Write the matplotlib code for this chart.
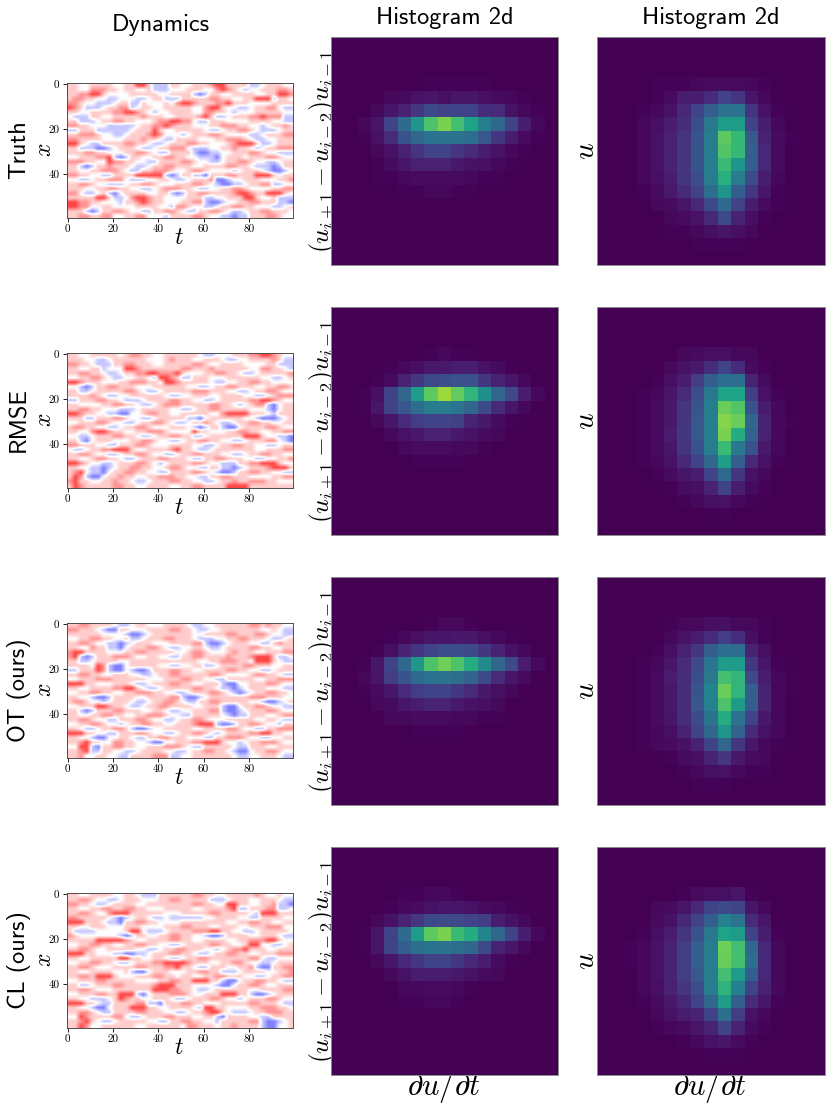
"""Dynamics and 2d histograms for the four models, one row per model."""

from __future__ import annotations

import matplotlib

matplotlib.use("Agg")
import matplotlib.pyplot as plt
import numpy as np

MODELS = ["Truth", "RMSE", "OT (ours)", "CL (ours)"]
X_TICKS = [0, 20, 40, 60, 80]
Y_TICKS = [0, 20, 40]

# coarse read of the dynamics panels, 30 rows x 40 columns
# 0 strong blue, 1 pale blue, 2 white, 3 pale red, 4 red, 5 strong red
LEVELS = [-0.5, -0.22, 0.0, 0.2, 0.42, 0.72]

DYN_TRUTH = [
    "3322333322 3355311133 2233345533 3311233322",
    "3322444332 3322311122 2333224543 2122333443",
    "3344553222 2333332233 3310133223 3332233554",
    "3443322112 2211233111 3333344332 2335551332",
    "4432211123 3113222324 5543334453 3322223333",
    "5431112334 4123322333 3322455322 1123344211",
    "3322333344 5543212233 3322443321 2223333322",
    "2111332233 3334333223 3334531123 3344544411",
    "3311123344 3322234455 4421133322 2233332211",
    "4433222111 1123344543 3322233444 3322123343",
    "1133311111 1233353223 3333211233 4432111233",
    "3344432211 2333454222 1233344322 2211233344",
    "4433332222 3334332113 3332223344 4321122333",
    "5532113333 4433211233 3443322234 5553112333",
    "3311100123 3321123344 4211122334 3321233444",
    "3334433222 3344321133 3310011223 3344322111",
    "2233344510 1332233443 3221110233 3233344322",
    "4443322544 3322113333 4432211233 4432211233",
    "3310133433 3211233443 3322333344 3321110133",
    "3322334443 2113344432 2344322221 2333210012",
    "4433221133 3355555101 3311033344 3335553233",
    "2211233444 2111223321 1233340012 2333222334",
    "3344322111 2334432223 3344321001 1233441122",
    "3332233443 3221123444 3321122334 4322223344",
    "4421123102 3333223310 1334433334 5543355532",
    "3333355311 2455433222 2333112233 3553223111",
    "5544332221 3345433222 3344100122 3344333110",
    "5544223322 2233332214 4322112334 4332221123",
    "3331013344 3221133443 2113344321 1233443332",
    "3344334422 3344222133 3344322110 1133344322",
]
DYN_RMSE = [
    "3322333332 3443322333 3332112223 3344554322",
    "3332211233 3333222343 3322333211 2233334311",
    "4433211133 4433322333 3344322333 3222233111",
    "3322331222 5543333333 4433343333 3322443321",
    "3344332112 3344554445 3222334433 2112333334",
    "2233443211 2233215543 1133322233 3333221123",
    "5543332223 3444332554 3333321122 3344332222",
    "2210133443 3322233333 3221123344 3332233443",
    "3311233333 4432112333 3344433322 1123344322",
    "3333432112 2333333211 2233322333 3221123444",
    "1133344332 1112333344 3322112333 3344554322",
    "3322223344 3321123444 3333344332 1234410233",
    "3344332221 1123333322 1123344333 3322210233",
    "5543322110 0223443322 3333322455 5533321333",
    "3331133344 3221123333 3110233333 3221000123",
    "2233344322 1123344321 1233432112 3344332233",
    "3443322112 3344322233 3210133100 2333344322",
    "3322455433 2233444322 2253322233 4433223344",
    "2211233344 3321123344 3311233333 3555322110",
    "3310233322 2334432211 2334433221 1233344210",
    "4433322113 3344322233 3322112334 4332211233",
    "2112334455 5322333345 3321123333 3332233344",
    "3344322112 3344322112 3344333221 1233443322",
    "3322344332 1123334433 3211334433 3221122334",
    "5543221123 3344321233 3344322111 3344555322",
    "3322110123 3443322344 3221133110 1233345553",
    "3452110233 4433221133 3344321001 3344332211",
    "3541002334 3322334443 3221133443 3322223344",
    "4533223343 3211233344 3322112334 3344433222",
    "3543333344 3322333322 3344333355 5533333333",
]
DYN_OT = [
    "3344333321 1233222333 3211223333 3344343322",
    "4433321003 3222333344 3321122333 3333223211",
    "3333332222 1001233333 3322333344 3334432211",
    "2233443322 3112333443 3321112233 4433321123",
    "3344322110 1233322233 3344100123 3322113433",
    "3322433110 2333443211 2233211233 3344332233",
    "4553333222 3344333332 2344322234 3332233344",
    "4510133344 4322332211 3344333343 3345553112",
    "3311233332 2333333333 3332233444 3325553211",
    "3333254100 2333332211 2233112333 3443332233",
    "1133354100 2100133344 3322333344 3322112333",
    "3344332233 3221123344 3333344322 2234433211",
    "2233344433 3333222333 4433221133 3332233444",
    "5553322233 3211233344 3322333100 2233344322",
    "3322333344 5532112333 3344332110 1233322211",
    "2233443322 3344433221 1233344321 0123344332",
    "3322100133 3322333344 1001233333 3344433322",
    "3443221233 3211233443 2113344333 3322100123",
    "2233355433 2112334433 3322333100 2334432211",
    "3310133344 3332233211 2233344100 1233344322",
    "3322334433 2233444322 1133333210 1133322344",
    "3344322113 3344322112 3344322233 3332233211",
    "2233443221 2334433223 3345551001 3344322133",
    "3321123344 3100122333 3322333344 3221133444",
    "5553322113 3344322112 3344321233 3344553322",
    "3322100223 3211334433 3222113344 4322112233",
    "3345332244 3322100223 3344555322 1233444322",
    "2255103344 3322333444 3211333332 1133322333",
    "3345113322 1123333221 1233443321 0023344322",
    "3342233221 1333344411 2233333332 1122333211",
]
DYN_CL = [
    "3322333322 3321113333 3344332233 3334322322",
    "3344322112 3332223344 3333311123 3322333211",
    "4433211233 3322333333 3344332255 3322334110",
    "3322334433 4433222333 3322333345 1133344112",
    "3344322455 5333333222 3333344333 3321555333",
    "4433333210 1233211211 1111223333 2211333322",
    "5553332110 3344332222 3333333322 3344332233",
    "3322333222 3332222333 4433322333 2233344422",
    "3111122222 3552111233 3344455332 2112333332",
    "4322222221 0133223344 3322100133 3322333211",
    "3333355555 4322333344 3322333322 3344455322",
    "2233443322 3344332211 2333344332 2355221123",
    "3344322333 3322112334 4333221234 4533322333",
    "5553322211 0011233344 3321123344 3322333444",
    "3322333335 5332233211 2334433333 3344211222",
    "2233443321 1233344555 5433322334 4322112333",
    "3344322233 3344333445 3321133322 3341003344",
    "3322333322 3100233322 2334433111 2333322334",
    "3344355532 2233344332 3322334433 3221123344",
    "2233344333 3322223344 3355533100 2334433211",
    "3311233344 3333345553 3322221002 3344322333",
    "3344322233 3333355544 3321123333 3322333344",
    "2233344335 5510233344 4322333555 3310012333",
    "3322111235 4332233321 1233344322 1233344322",
    "5553321133 3344110333 4433222333 3344333211",
    "3322100233 3555332233 3321553322 2233444332",
    "3344321133 3344333221 1233455321 1123344433",
    "2254333344 2112333443 3322331033 3322113333",
    "3345321123 3333221133 4433221333 3344100123",
    "3354223333 3322333333 2443332334 3333100223",
]

# 2d histograms, 17 x 17 bins, percent of the colour range; rows 3 to 15 hold
# everything that is not background
HIST_FIRST_ROW = 3
HIST_A_TRUTH = [
    [0, 0, 0, 0, 0, 0, 0, 1, 1, 1, 1, 1, 0, 0, 0, 0, 0],
    [0, 0, 0, 0, 2, 3, 5, 6, 4, 6, 6, 4, 3, 2, 1, 0, 0],
    [0, 0, 0, 2, 6, 10, 16, 22, 20, 20, 20, 13, 12, 5, 2, 1, 0],
    [0, 0, 2, 6, 20, 35, 52, 72, 80, 70, 58, 43, 33, 20, 8, 2, 0],
    [0, 0, 1, 5, 12, 26, 33, 38, 38, 38, 36, 27, 16, 8, 3, 1, 0],
    [0, 0, 0, 2, 5, 9, 15, 20, 20, 15, 12, 8, 5, 2, 1, 0, 0],
    [0, 0, 0, 1, 3, 6, 9, 9, 9, 7, 5, 4, 2, 1, 0, 0, 0],
    [0, 0, 0, 1, 1, 2, 3, 3, 3, 3, 2, 1, 1, 0, 0, 0, 0],
    [0, 0, 0, 0, 0, 1, 1, 2, 2, 1, 1, 0, 0, 0, 0, 0, 0],
    [0] * 17, [0] * 17, [0] * 17, [0] * 17,
]
HIST_B_TRUTH = [
    [0, 0, 0, 0, 1, 1, 1, 2, 3, 3, 3, 2, 1, 0, 0, 0, 0],
    [0, 0, 0, 0, 1, 3, 8, 8, 12, 20, 15, 6, 2, 0, 0, 0, 0],
    [0, 0, 0, 1, 2, 5, 11, 20, 30, 38, 38, 15, 5, 1, 0, 0, 0],
    [0, 0, 0, 2, 4, 8, 13, 24, 40, 55, 55, 20, 8, 2, 0, 0, 0],
    [0, 0, 0, 2, 5, 9, 15, 25, 42, 75, 67, 28, 10, 3, 1, 0, 0],
    [0, 0, 0, 2, 5, 9, 16, 26, 42, 73, 67, 30, 11, 3, 0, 0, 0],
    [0, 0, 0, 2, 5, 10, 16, 26, 42, 68, 52, 30, 11, 3, 0, 0, 0],
    [0, 0, 0, 2, 4, 8, 15, 24, 42, 63, 42, 23, 8, 2, 0, 0, 0],
    [0, 0, 0, 1, 3, 7, 12, 20, 36, 52, 30, 16, 6, 1, 0, 0, 0],
    [0, 0, 0, 0, 2, 3, 6, 11, 22, 34, 20, 8, 3, 1, 0, 0, 0],
    [0, 0, 0, 0, 0, 2, 3, 5, 11, 22, 10, 4, 1, 0, 0, 0, 0],
    [0, 0, 0, 0, 0, 1, 1, 2, 4, 6, 4, 2, 0, 0, 0, 0, 0],
    [0, 0, 0, 0, 0, 0, 0, 1, 1, 1, 1, 0, 0, 0, 0, 0, 0],
]
HIST_A_RMSE = [
    [0, 0, 0, 0, 0, 0, 0, 1, 2, 1, 1, 0, 0, 0, 0, 0, 0],
    [0, 0, 0, 0, 1, 2, 4, 7, 7, 8, 8, 5, 3, 1, 0, 0, 0],
    [0, 0, 0, 1, 3, 10, 16, 22, 24, 25, 25, 16, 10, 6, 2, 0, 0],
    [0, 0, 1, 4, 20, 33, 55, 75, 85, 76, 66, 50, 33, 22, 8, 2, 0],
    [0, 0, 1, 6, 20, 27, 36, 42, 42, 38, 33, 23, 12, 6, 2, 0, 0],
    [0, 0, 0, 2, 6, 12, 18, 20, 20, 19, 10, 7, 3, 1, 0, 0, 0],
    [0, 0, 0, 0, 2, 5, 7, 9, 9, 7, 5, 3, 2, 0, 0, 0, 0],
    [0, 0, 0, 0, 0, 2, 3, 3, 3, 2, 2, 1, 0, 0, 0, 0, 0],
    [0, 0, 0, 0, 0, 0, 1, 1, 1, 1, 0, 0, 0, 0, 0, 0, 0],
    [0] * 17, [0] * 17, [0] * 17, [0] * 17,
]
HIST_B_RMSE = [
    [0, 0, 0, 0, 0, 0, 2, 3, 4, 4, 2, 2, 0, 0, 0, 0, 0],
    [0, 0, 0, 0, 0, 2, 5, 7, 13, 20, 12, 3, 1, 0, 0, 0, 0],
    [0, 0, 0, 0, 1, 4, 8, 18, 30, 36, 36, 10, 3, 0, 0, 0, 0],
    [0, 0, 0, 1, 2, 6, 12, 24, 40, 58, 58, 18, 5, 1, 0, 0, 0],
    [0, 0, 0, 1, 3, 7, 15, 26, 43, 77, 73, 25, 8, 2, 0, 0, 0],
    [0, 0, 0, 1, 3, 7, 15, 27, 43, 82, 77, 33, 10, 2, 1, 0, 0],
    [0, 0, 0, 1, 3, 8, 16, 28, 43, 80, 62, 32, 9, 2, 0, 0, 0],
    [0, 0, 0, 1, 3, 6, 15, 25, 42, 68, 40, 25, 7, 2, 0, 0, 0],
    [0, 0, 0, 1, 2, 5, 11, 20, 33, 56, 30, 11, 5, 1, 0, 0, 0],
    [0, 0, 0, 0, 1, 3, 6, 8, 20, 34, 16, 5, 2, 0, 0, 0, 0],
    [0, 0, 0, 0, 0, 1, 3, 4, 10, 20, 8, 3, 1, 0, 0, 0, 0],
    [0, 0, 0, 0, 0, 0, 1, 2, 4, 5, 2, 1, 0, 0, 0, 0, 0],
    [0, 0, 0, 0, 0, 0, 0, 0, 0, 1, 0, 0, 0, 0, 0, 0, 0],
]
HIST_A_OT = [
    [0, 0, 0, 0, 0, 0, 0, 1, 2, 2, 1, 0, 0, 0, 0, 0, 0],
    [0, 0, 0, 0, 1, 2, 4, 6, 6, 7, 7, 4, 2, 1, 0, 0, 0],
    [0, 0, 0, 1, 4, 10, 15, 20, 24, 24, 22, 16, 10, 5, 2, 0, 0],
    [0, 0, 1, 6, 20, 33, 53, 72, 78, 72, 62, 48, 33, 22, 8, 2, 0],
    [0, 0, 2, 6, 18, 26, 35, 38, 38, 36, 32, 22, 12, 6, 3, 0, 0],
    [0, 0, 1, 3, 6, 12, 18, 20, 20, 16, 12, 7, 4, 2, 0, 0, 0],
    [0, 0, 0, 2, 3, 6, 8, 10, 10, 7, 5, 4, 2, 0, 0, 0, 0],
    [0, 0, 0, 0, 2, 2, 3, 3, 3, 2, 2, 1, 1, 0, 0, 0, 0],
    [0, 0, 0, 0, 0, 0, 1, 1, 1, 1, 0, 0, 0, 0, 0, 0, 0],
    [0] * 17, [0] * 17, [0] * 17, [0] * 17,
]
HIST_B_OT = [
    [0, 0, 0, 0, 0, 1, 2, 2, 4, 4, 2, 2, 1, 0, 0, 0, 0],
    [0, 0, 0, 0, 0, 2, 5, 8, 12, 18, 13, 4, 1, 0, 0, 0, 0],
    [0, 0, 0, 0, 1, 4, 9, 16, 30, 36, 36, 10, 4, 0, 0, 0, 0],
    [0, 0, 0, 1, 2, 6, 12, 22, 38, 55, 55, 16, 6, 1, 0, 0, 0],
    [0, 0, 0, 1, 3, 8, 13, 24, 40, 70, 66, 22, 8, 2, 1, 0, 0],
    [0, 0, 0, 1, 3, 7, 13, 26, 45, 77, 66, 30, 10, 2, 1, 0, 0],
    [0, 0, 0, 1, 3, 7, 13, 27, 44, 72, 55, 30, 10, 2, 0, 0, 0],
    [0, 0, 0, 1, 3, 6, 13, 23, 38, 62, 38, 20, 7, 2, 0, 0, 0],
    [0, 0, 0, 1, 2, 4, 10, 20, 33, 52, 32, 12, 5, 2, 0, 0, 0],
    [0, 0, 0, 1, 2, 3, 5, 9, 20, 33, 16, 6, 2, 1, 0, 0, 0],
    [0, 0, 0, 0, 0, 1, 3, 4, 10, 16, 7, 3, 2, 0, 0, 0, 0],
    [0, 0, 0, 0, 0, 0, 1, 2, 4, 5, 2, 1, 1, 0, 0, 0, 0],
    [0, 0, 0, 0, 0, 0, 0, 1, 1, 1, 0, 0, 0, 0, 0, 0, 0],
]
HIST_A_CL = [
    [0, 0, 0, 0, 0, 1, 1, 2, 2, 1, 0, 0, 0, 0, 0, 0, 0],
    [0, 0, 0, 0, 1, 2, 3, 5, 6, 6, 5, 3, 2, 1, 0, 0, 0],
    [0, 0, 0, 2, 5, 10, 16, 22, 23, 22, 20, 18, 8, 5, 2, 0, 0],
    [0, 0, 1, 6, 20, 35, 55, 75, 80, 68, 62, 45, 33, 20, 8, 2, 0],
    [0, 0, 1, 6, 20, 30, 37, 39, 38, 36, 33, 22, 10, 6, 2, 0, 0],
    [0, 0, 0, 2, 6, 11, 16, 20, 20, 16, 11, 8, 3, 1, 0, 0, 0],
    [0, 0, 0, 0, 2, 5, 8, 8, 8, 7, 5, 3, 2, 0, 0, 0, 0],
    [0, 0, 0, 0, 0, 2, 2, 3, 3, 2, 1, 0, 0, 0, 0, 0, 0],
    [0, 0, 0, 0, 0, 1, 1, 2, 2, 1, 0, 0, 0, 0, 0, 0, 0],
    [0] * 17, [0] * 17, [0] * 17, [0] * 17,
]
HIST_B_CL = [
    [0, 0, 0, 0, 0, 0, 1, 3, 4, 4, 6, 1, 0, 0, 0, 0, 0],
    [0, 0, 0, 0, 2, 3, 6, 11, 20, 22, 20, 6, 2, 0, 0, 0, 0],
    [0, 0, 0, 0, 3, 5, 11, 20, 30, 44, 38, 12, 6, 0, 0, 0, 0],
    [0, 0, 0, 1, 4, 8, 15, 25, 40, 58, 55, 20, 8, 1, 0, 0, 0],
    [0, 0, 1, 2, 5, 10, 18, 30, 42, 78, 70, 33, 11, 2, 0, 0, 0],
    [0, 0, 1, 2, 5, 10, 18, 30, 42, 77, 70, 36, 11, 2, 0, 0, 0],
    [0, 0, 0, 2, 5, 10, 18, 28, 42, 70, 55, 30, 11, 2, 0, 0, 0],
    [0, 0, 0, 2, 4, 9, 16, 24, 42, 65, 43, 20, 9, 2, 0, 0, 0],
    [0, 0, 0, 1, 3, 7, 11, 20, 33, 55, 30, 12, 6, 1, 0, 0, 0],
    [0, 0, 0, 0, 2, 5, 8, 10, 20, 37, 18, 5, 2, 0, 0, 0, 0],
    [0, 0, 0, 0, 1, 2, 3, 6, 10, 20, 10, 3, 1, 0, 0, 0, 0],
    [0, 0, 0, 0, 0, 0, 1, 2, 5, 6, 3, 1, 0, 0, 0, 0, 0],
    [0, 0, 0, 0, 0, 0, 0, 0, 1, 1, 1, 0, 0, 0, 0, 0, 0],
]

DYNAMICS = [DYN_TRUTH, DYN_RMSE, DYN_OT, DYN_CL]
HIST_A = [HIST_A_TRUTH, HIST_A_RMSE, HIST_A_OT, HIST_A_CL]
HIST_B = [HIST_B_TRUTH, HIST_B_RMSE, HIST_B_OT, HIST_B_CL]

W, H = 831, 1109
HIST_TOPS = [37, 307, 577, 847]
DYN_TOPS = [83, 353, 623, 893]


def _style() -> None:
    plt.rcParams.update({
        "font.family": ["cmss10", "DejaVu Sans"],
        "mathtext.fontset": "cm",
        "axes.linewidth": 0.7,
        "axes.edgecolor": "0.3",
        "xtick.major.size": 3,
        "ytick.major.size": 3,
        "xtick.major.width": 0.6,
        "ytick.major.width": 0.6,
        "xtick.major.pad": 2,
        "ytick.major.pad": 2,
    })


def add_axes(fig: plt.Figure, left: float, top: float, w: float, h: float) -> plt.Axes:
    return fig.add_axes([left / W, 1 - (top + h) / H, w / W, h / H])


def label(fig: plt.Figure, x: float, y: float, s: str, **kw) -> None:
    """Figure text placed in pixels, drawn under the axes so they can cut it."""
    kw.setdefault("ha", "center")
    kw.setdefault("va", "center")
    kw.setdefault("zorder", -1)
    fig.text(x / W, 1 - y / H, s, **kw)


def decode(rows: list[str]) -> np.ndarray:
    codes = np.array([[int(c) for c in r.replace(" ", "")] for r in rows])
    return np.array(LEVELS)[codes]


def hist_grid(rows: list[list[int]]) -> np.ndarray:
    grid = np.zeros((17, 17))
    grid[HIST_FIRST_ROW:HIST_FIRST_ROW + len(rows)] = np.array(rows) / 100
    return grid


def plot_dynamics(ax: plt.Axes, rows: list[str]) -> None:
    ax.imshow(decode(rows), cmap="bwr", vmin=-1, vmax=1, aspect="auto",
              interpolation="bilinear", extent=(-0.5, 99.5, 59.5, -0.5))
    ax.set_xticks(X_TICKS)
    ax.set_yticks(Y_TICKS)
    ax.set_xticklabels([str(t) for t in X_TICKS], fontfamily="cmr10", fontsize=8)
    ax.set_yticklabels([str(t) for t in Y_TICKS], fontfamily="cmr10", fontsize=8)


def plot_hist(ax: plt.Axes, rows: list[list[int]]) -> None:
    ax.imshow(hist_grid(rows), cmap="viridis", vmin=0, vmax=1, aspect="auto",
              interpolation="nearest")
    ax.set_xticks([])
    ax.set_yticks([])
    for spine in ax.spines.values():
        spine.set_edgecolor("0.55")


def main() -> None:
    _style()
    fig = plt.figure(figsize=(W / 100, H / 100), dpi=100)

    label(fig, 161, 25, "Dynamics", fontsize=17.5)
    label(fig, 445, 18, "Histogram 2d", fontsize=17.5)
    label(fig, 711, 18, "Histogram 2d", fontsize=17.5)

    for i, model in enumerate(MODELS):
        ax = add_axes(fig, 66.5, DYN_TOPS[i], 226.5, 135)
        plot_dynamics(ax, DYNAMICS[i])
        plot_hist(add_axes(fig, 331, HIST_TOPS[i], 227, 228), HIST_A[i])
        plot_hist(add_axes(fig, 597, HIST_TOPS[i], 228, 228), HIST_B[i])

        mid = HIST_TOPS[i] + 114
        label(fig, 19, mid - 1, model, rotation=90, fontsize=17.5)
        label(fig, 45, mid - 1, r"$x$", rotation=90, fontsize=17)
        label(fig, 179, DYN_TOPS[i] + 155, r"$t$", fontsize=17)
        label(fig, 322, mid, r"$(u_{i+1}-u_{i-2})u_{i-1}$", rotation=90, fontsize=18.5)
        label(fig, 587, mid, r"$u$", rotation=90, fontsize=21)

    label(fig, 444, 1087, r"$\partial u/\partial t$", fontsize=22)
    label(fig, 710, 1087, r"$\partial u/\partial t$", fontsize=22)

    fig.savefig("out.png", dpi=100)


if __name__ == "__main__":
    main()
